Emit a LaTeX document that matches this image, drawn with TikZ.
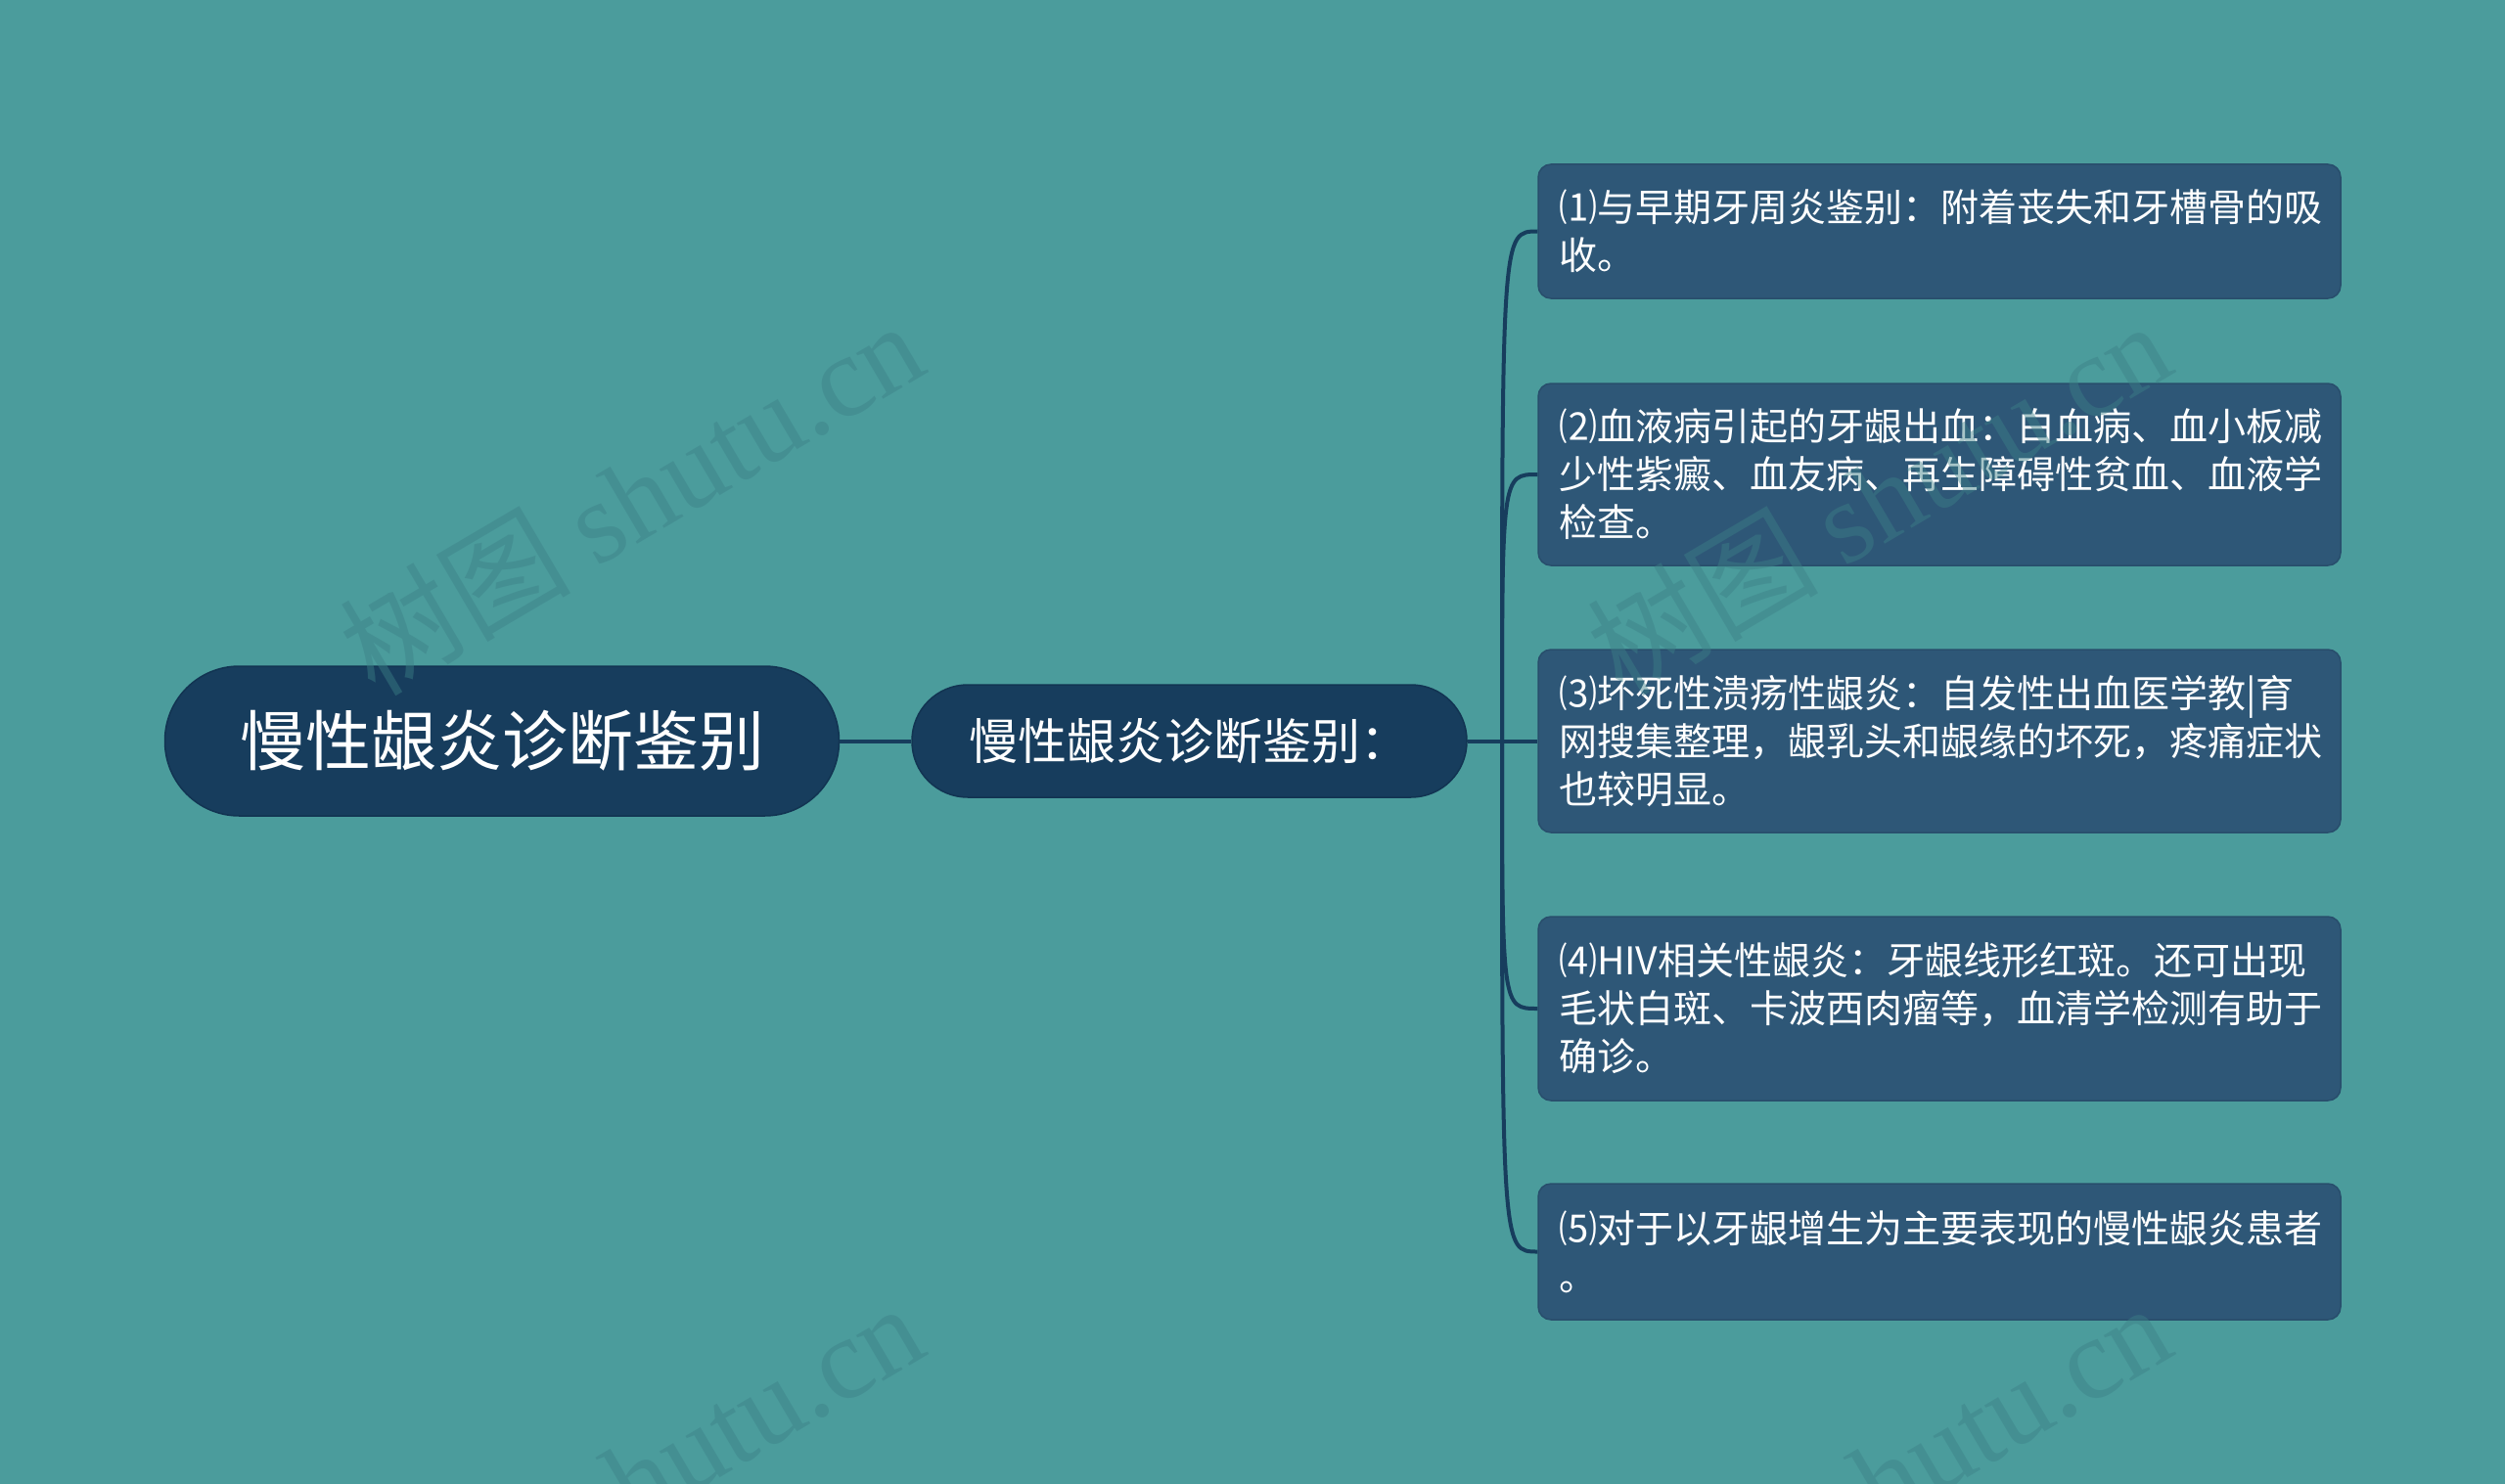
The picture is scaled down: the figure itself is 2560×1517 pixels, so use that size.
\documentclass[tikz,border=0pt]{standalone}
\usepackage{fontspec}
\setmainfont{Noto Sans CJK SC}
\newfontfamily\wmlatin{Liberation Serif}
\definecolor{bgc}{RGB}{75,156,156}
\definecolor{darkc}{RGB}{23,61,93}
\definecolor{darkedge}{RGB}{18,52,82}
\definecolor{leafc}{RGB}{46,87,119}
\definecolor{leafedge}{RGB}{40,78,108}
\definecolor{wmc}{RGB}{60,128,135}
\tikzset{
  rootbox/.style={fill=darkc, draw=darkedge, line width=1.5pt, text=white,
    minimum width=689pt, minimum height=153pt, rounded corners=76pt,
    font=\fontsize{67pt}{80pt}\selectfont, inner sep=0pt},
  midbox/.style={fill=darkc, draw=darkedge, line width=1.5pt, text=white,
    minimum width=567pt, minimum height=115pt, rounded corners=57pt,
    font=\fontsize{50pt}{60pt}\selectfont, inner sep=0pt},
  leafbox/.style={fill=leafc, draw=leafedge, line width=1.5pt, text=white,
    minimum width=820pt, text width=778pt, inner xsep=21pt, inner ysep=0pt,
    align=left, rounded corners=13pt,
    font=\fontsize{39pt}{49pt}\selectfont},
  conn/.style={draw=darkc, line width=4pt},
  wmark/.style={text=wmc, opacity=0.45, rotate=30.5, inner sep=0pt,
    font=\fontsize{118pt}{124pt}\selectfont}
}
\begin{document}
\begin{tikzpicture}[x=1pt,y=-1pt]
\fill[bgc] (0,0) rectangle (2560,1517);
\useasboundingbox (0,0) rectangle (2560,1517);

\node[rootbox] (root) at (513,757.5) {慢性龈炎诊断鉴别};
\node[midbox] (mid) at (1215.5,757.5) {慢性龈炎诊断鉴别：};
\coordinate (J) at (1535,757.5);

\node[leafbox, minimum height=137pt] (l1) at (1982,236.5)
  {⑴与早期牙周炎鉴别：附着丧失和牙槽骨的吸\\收。};
\node[leafbox, minimum height=186pt] (l2) at (1982,485)
  {⑵血液病引起的牙龈出血：白血病、血小板减\\少性紫癜、血友病、再生障碍性贫血、血液学\\检查。};
\node[leafbox, minimum height=187pt] (l3) at (1982,757.5)
  {⑶坏死性溃疡性龈炎：自发性出血医学教|育\\网搜集整理，龈乳头和龈缘的坏死，疼痛症状\\也较明显。};
\node[leafbox, minimum height=188pt] (l4) at (1982,1031)
  {⑷HIV相关性龈炎：牙龈线形红斑。还可出现\\毛状白斑、卡波西肉瘤等，血清学检测有助于\\确诊。};
\node[leafbox, minimum height=139pt] (l5) at (1982,1279.5)
  {⑸对于以牙龈增生为主要表现的慢性龈炎患者\\。};

\draw[conn] (root.east) -- (mid.west);
\draw[conn] (mid.east) -- (J);
\foreach \l in {l1,l2,l3,l4,l5}{
  \draw[conn] (J) .. controls (J |- \l.west) and (J |- \l.west) .. (\l.west);
}

\node[wmark] (w1) at (645,508) {树图 {\wmlatin shutu.cn}};
\node[wmark] (w2) at (1920,508) {树图 {\wmlatin shutu.cn}};
\node[wmark] (w3) at (645,1512) {树图 {\wmlatin shutu.cn}};
\node[wmark] (w4) at (1920,1512) {树图 {\wmlatin shutu.cn}};
\end{tikzpicture}
\end{document}
